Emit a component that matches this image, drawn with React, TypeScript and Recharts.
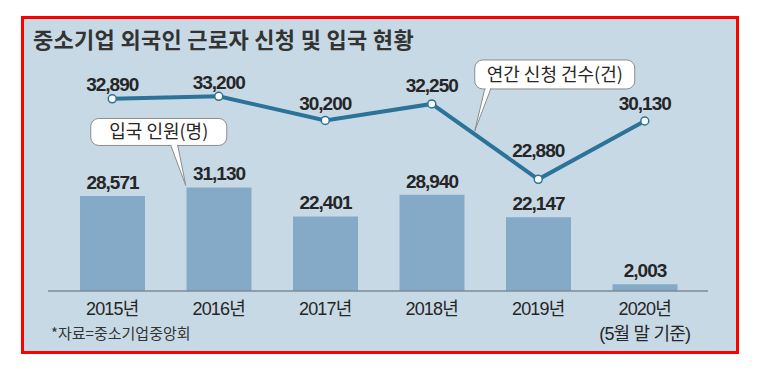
import { Bar, ComposedChart, LabelList, Line, ReferenceDot, XAxis, YAxis } from "recharts"

const years = ["2015년", "2016년", "2017년", "2018년", "2019년", "2020년"]
const yearNotes = ["", "", "", "", "", "(5월 말 기준)"]
const entrants = [28571, 31130, 22401, 28940, 22147, 2003]
const applications = [32890, 33200, 30200, 32250, 22880, 30130]

const data = years.map((year, i) => ({
  year,
  entrants: entrants[i],
  applications: applications[i],
}))

// how far each line label sits above its dot
const lineLabelLift = [8, 7, 10, 12, 22, 11]

const NUM_FONT = "'Liberation Sans', Arial, 'Noto Sans CJK KR', sans-serif"
const KR_FONT = "'Noto Sans CJK KR', 'Noto Sans', sans-serif"
const TEXT = "#262626"
const LINE = "#2b7398"
const BAR = "#85aac8"
const BG = "#c8d9e6"

const fmt = (v: number) => v.toLocaleString("en-US")

function YearTick(props: any) {
  const { x, y, payload } = props
  const i = years.indexOf(payload.value)
  const note = yearNotes[i]
  return (
    <g>
      <text x={x} y={y + 24} textAnchor="middle" fill={TEXT} fontSize={18} letterSpacing={-0.8} fontFamily={NUM_FONT}>
        {payload.value}
      </text>
      {note && (
        <text x={x} y={y + 49} textAnchor="middle" fill={TEXT} fontSize={18} letterSpacing={-0.8} fontFamily={NUM_FONT}>
          {note}
        </text>
      )}
    </g>
  )
}

function LineValue(props: any) {
  const { x, y, value, index } = props
  return (
    <text x={x} y={y - lineLabelLift[index]} textAnchor="middle" fill={TEXT} fontSize={19} letterSpacing={-1} fontWeight="bold" fontFamily={NUM_FONT}>
      {fmt(value)}
    </text>
  )
}

function callout(text: string, box: [number, number, number, number], base: [number, number], tip: [number, number]) {
  return (p: any) => {
    const { cx, cy } = p
    const [bx, by, w, h] = [cx + box[0], cy + box[1], box[2], box[3]]
    const b1 = cx + base[0]
    const b2 = cx + base[1]
    const tx = cx + tip[0]
    const ty = cy + tip[1]
    return (
      <g>
        <rect x={bx} y={by} width={w} height={h} rx={8} fill="#fff" stroke="#8c8c8c" strokeWidth={1} />
        <path d={`M${b1},${by + h} L${tx},${ty} L${b2},${by + h} Z`} fill="#fff" stroke="#8c8c8c" strokeWidth={1} />
        <line x1={b1 + 0.8} x2={b2 - 0.8} y1={by + h} y2={by + h} stroke="#fff" strokeWidth={2} />
        <text x={bx + w / 2} y={by + h / 2 + 6.5} textAnchor="middle" fill={TEXT} fontSize={18} fontFamily={KR_FONT}>
          {text}
        </text>
      </g>
    )
  }
}

export default function App() {
  return (
    <div style={{ position: "absolute", left: 0, top: 0, width: 762, height: 370, background: "#fff" }}>
      <div
        style={{
          position: "absolute",
          left: 21,
          top: 16,
          width: 718,
          height: 338,
          boxSizing: "border-box",
          border: "3px solid #ff0000",
          background: BG,
        }}
      />
      <svg width={762} height={370} style={{ position: "absolute", left: 0, top: 0 }}>
        <text x={33} y={48} fill="#333" fontSize={22} letterSpacing={0.3} fontWeight="bold" fontFamily={KR_FONT}>
          중소기업 외국인 근로자 신청 및 입국 현황
        </text>
        <text x={51} y={339} fill="#333" fontSize={15} fontFamily={KR_FONT}>
          *자료=중소기업중앙회
        </text>
      </svg>
      <div style={{ position: "absolute", left: 0, top: 0 }}>
        <ComposedChart width={762} height={370} data={data} margin={{ top: 60, right: 54, left: 48, bottom: 19 }}>
          <XAxis
            dataKey="year"
            height={60}
            padding={{ left: 11, right: 10 }}
            axisLine={{ stroke: "#7d8a96", strokeWidth: 1.5 }}
            tickLine={false}
            tickSize={0}
            tickMargin={0}
            interval={0}
            tick={<YearTick />}
          />
          <YAxis yAxisId="bar" hide domain={[0, 69450]} />
          <YAxis yAxisId="line" hide domain={[8980, 37720]} />
          <Bar yAxisId="bar" dataKey="entrants" fill={BAR} barSize={65} isAnimationActive={false}>
            <LabelList
              dataKey="entrants"
              position="top"
              offset={7}
              formatter={(v: any) => fmt(v)}
              fill={TEXT}
              fontSize={19}
              letterSpacing={-1}
              fontWeight="bold"
              fontFamily={NUM_FONT}
            />
          </Bar>
          <Line
            yAxisId="line"
            dataKey="applications"
            stroke={LINE}
            strokeWidth={4}
            dot={{ r: 4, fill: "#fff", stroke: LINE, strokeWidth: 1.5 }}
            activeDot={false}
            isAnimationActive={false}
          >
            <LabelList dataKey="applications" content={<LineValue />} />
          </Line>
          <ReferenceDot
            yAxisId="bar"
            x="2016년"
            y={31130}
            ifOverflow="visible"
            shape={callout("입국 인원(명)", [-128, -69, 136, 27], [-48, -41], [-33, -2])}
          />
          <ReferenceDot
            yAxisId="line"
            x="2018년"
            y={32250}
            ifOverflow="visible"
            shape={callout("연간 신청 건수(건)", [43, -44, 160, 29], [53, 59], [43, 27])}
          />
        </ComposedChart>
      </div>
    </div>
  )
}
